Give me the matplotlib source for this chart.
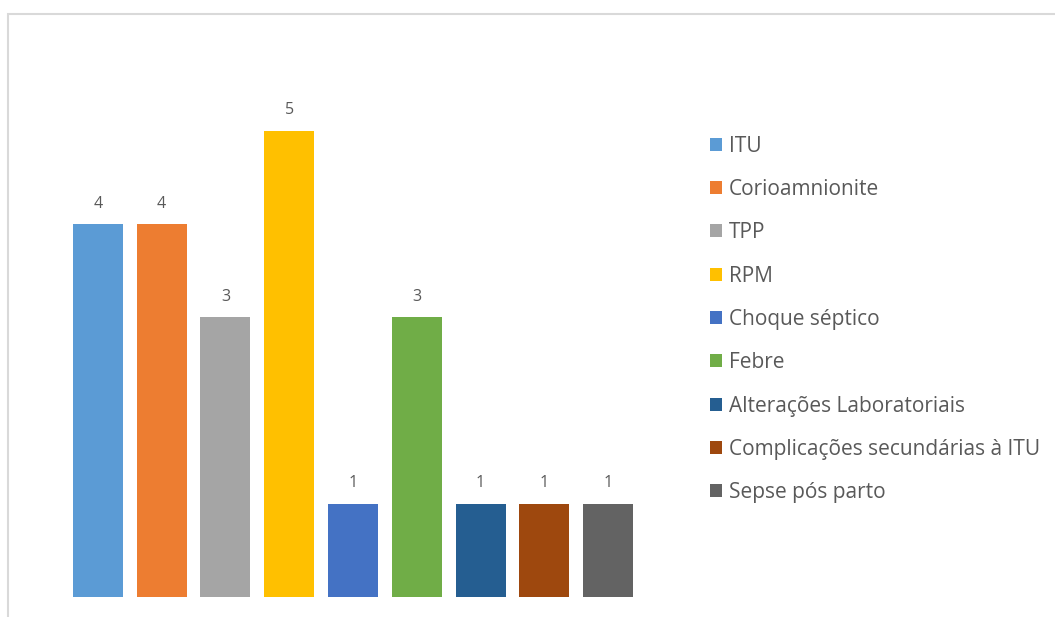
import matplotlib.pyplot as plt
from matplotlib.patches import Patch, Rectangle

categorias = ['ITU', 'Corioamnionite', 'TPP', 'RPM', 'Choque séptico', 'Febre',
              'Alterações Laboratoriais', 'Complicações secundárias à ITU',
              'Sepse pós parto']
valores = [4, 4, 3, 5, 1, 3, 1, 1, 1]
cores = ['#5b9bd5', '#ed7d31', '#a5a5a5', '#ffc000', '#4472c4', '#70ad47',
         '#255e91', '#9e480e', '#636363']

W, H = 1055, 617
plt.rcParams['font.family'] = ['Open Sans', 'DejaVu Sans']

fig = plt.figure(figsize=(W / 100, H / 100), dpi=100)

# chart-area frame (right and bottom edges fall outside the image)
fig.patches.append(Rectangle((8 / W, -0.05), 1.1, 1 - 14 / H + 0.05,
                             transform=fig.transFigure, fill=False,
                             edgecolor='#d9d9d9', lw=1.5))

# plot area in pixels: x 66..640, baseline at y=597, one unit = 93.2 px
ax = fig.add_axes([66 / W, (H - 597) / H, (640 - 66) / W, 6 * 93.2 / H])
x = range(len(categorias))
bars = ax.bar(x, valores, width=50 / 63.75, color=cores)
for b, v in zip(bars, valores):
    ax.annotate(str(v), (b.get_x() + b.get_width() / 2, v), xytext=(0, 9),
                textcoords='offset points', ha='center', va='bottom',
                fontsize=11.5, color='#595959')
ax.set_xlim(-0.5, len(categorias) - 0.5)
ax.set_ylim(0, 6)
ax.axis('off')

handles = [Patch(facecolor=c) for c in cores]
fig.legend(handles, categorias, loc='upper left',
           bbox_to_anchor=(691 / W, 1 - 117 / H), frameon=False,
           fontsize=15, labelcolor='#595959', handlelength=0.58,
           handleheight=0.58, handletextpad=0.34, labelspacing=1.07)

fig.savefig('out.png', dpi=100)
